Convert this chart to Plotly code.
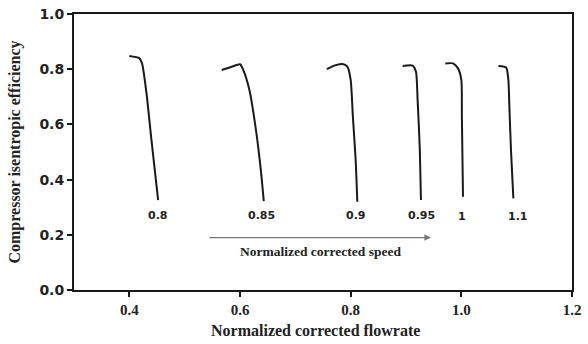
import plotly.graph_objects as go

# Speed lines: normalized corrected flowrate vs isentropic efficiency
speeds = ["0.8", "0.85", "0.9", "0.95", "1", "1.1"]
flow_080 = [0.400, 0.418, 0.423, 0.431, 0.440, 0.452]
eff_080 = [0.848, 0.840, 0.821, 0.713, 0.543, 0.326]
flow_085 = [0.567, 0.585, 0.600, 0.606, 0.617, 0.628, 0.637, 0.643]
eff_085 = [0.797, 0.809, 0.818, 0.797, 0.725, 0.592, 0.447, 0.322]
flow_090 = [0.757, 0.770, 0.785, 0.794, 0.800, 0.804, 0.809, 0.812]
eff_090 = [0.800, 0.813, 0.819, 0.809, 0.761, 0.628, 0.471, 0.320]
flow_095 = [0.894, 0.912, 0.918, 0.921, 0.925, 0.927]
eff_095 = [0.812, 0.813, 0.791, 0.688, 0.507, 0.326]
flow_100 = [0.971, 0.985, 0.994, 1.000, 1.001, 1.003]
eff_100 = [0.821, 0.821, 0.803, 0.761, 0.628, 0.338]
flow_110 = [1.067, 1.081, 1.085, 1.087, 1.090, 1.094]
eff_110 = [0.812, 0.806, 0.761, 0.652, 0.495, 0.332]

label_x = [0.452, 0.639, 0.810, 0.928, 1.002, 1.102]
label_y = [0.27, 0.27, 0.27, 0.27, 0.265, 0.265]

x_ticks = [0.4, 0.6, 0.8, 1.0, 1.2]
x_ticklabels = ["0.4", "0.6", "0.8", "1.0", "1.2"]
y_ticks = [0.0, 0.2, 0.4, 0.6, 0.8, 1.0]
y_ticklabels = ["0.0", "0.2", "0.4", "0.6", "0.8", "1.0"]

series = [(flow_080, eff_080), (flow_085, eff_085), (flow_090, eff_090),
          (flow_095, eff_095), (flow_100, eff_100), (flow_110, eff_110)]

SANS = "DejaVu Sans"
SERIF = "Liberation Serif, Times New Roman"
INK = "#1a1a1a"

fig = go.Figure()
for (fx, fy), name in zip(series, speeds):
    fig.add_trace(go.Scatter(x=fx, y=fy, mode="lines", name=name,
                             line=dict(color=INK, width=2, shape="spline", smoothing=0.6),
                             showlegend=False))

for lx, ly, t in zip(label_x, label_y, speeds):
    fig.add_annotation(x=lx, y=ly, text="<b>" + t + "</b>", showarrow=False,
                       font=dict(family=SANS, size=11, color="#222"))

# Arrow for increasing speed
fig.add_annotation(x=0.945, y=0.19, ax=0.542, ay=0.19, xref="x", yref="y",
                   axref="x", ayref="y", text="", showarrow=True,
                   arrowhead=2, arrowsize=1, arrowwidth=1.3, arrowcolor="#777")
fig.add_annotation(x=0.746, y=0.138, text="<b>Normalized corrected speed</b>", showarrow=False,
                   font=dict(family=SERIF, size=13.5, color="#222"))

# X axis title placed as paper annotation
fig.add_annotation(x=0.485, y=-0.145, xref="paper", yref="paper", yanchor="middle",
                   text="<b>Normalized corrected flowrate</b>", showarrow=False,
                   font=dict(family=SERIF, size=16, color="#222"))

fig.update_layout(
    width=588, height=344,
    margin=dict(l=74, r=16, t=14, b=54),
    plot_bgcolor="white", paper_bgcolor="white",
    xaxis=dict(range=[0.3, 1.2], tickvals=x_ticks, ticktext=["<b>" + s + "</b>" for s in x_ticklabels],
               showgrid=False, zeroline=False, showline=True, linecolor=INK, linewidth=2,
               mirror=True, ticks="outside", ticklen=5, tickwidth=1.5, tickcolor=INK,
               automargin=False,
               tickfont=dict(family=SERIF, size=15, color="#222")),
    yaxis=dict(range=[0, 1.0], tickvals=y_ticks, ticktext=["<b>" + s + "</b>" for s in y_ticklabels],
               showgrid=False, zeroline=False, showline=True, linecolor=INK, linewidth=2,
               mirror=True, ticks="outside", ticklen=5, tickwidth=1.5, tickcolor=INK,
               automargin=False,
               tickfont=dict(family=SANS, size=14, color="#222"),
               title=dict(text="<b>Compressor isentropic efficiency</b>",
                          font=dict(family=SERIF, size=16, color="#222"))),
)

fig.write_html("out.html")
